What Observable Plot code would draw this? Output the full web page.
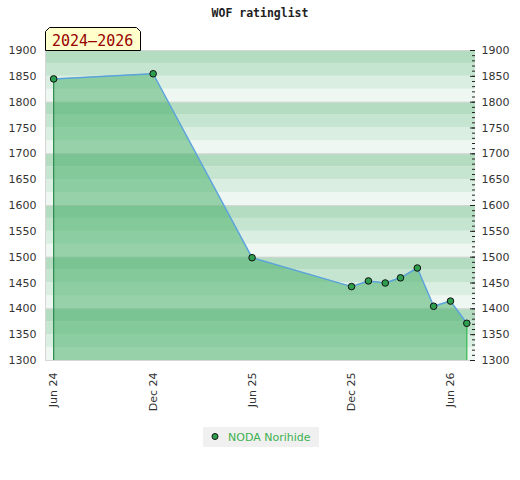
<!DOCTYPE html>
<html>
<head>
<meta charset="utf-8">
<script src="https://cdn.jsdelivr.net/npm/d3@7"></script>
<script src="https://cdn.jsdelivr.net/npm/@observablehq/plot@0.6"></script>
<style>
  html, body { margin: 0; padding: 0; background: #fff; }
  #wrap { position: relative; width: 520px; height: 480px; overflow: hidden; }
  #wrap > svg { position: absolute; left: 0; top: 0; }
  #deco { pointer-events: none; }
</style>
</head>
<body>
<div id="wrap"></div>
<script>
// ---- data ----
const dates = ["2024-06-01", "2024-12-01", "2025-06-01", "2025-12-01", "2026-01-01", "2026-02-01",
               "2026-03-01", "2026-04-01", "2026-05-01", "2026-06-01", "2026-07-01"];
const ratings = [1845, 1855, 1499, 1443, 1454, 1450, 1460, 1479, 1405, 1415, 1372];
const xTickDates = ["2024-06-01", "2024-12-01", "2025-06-01", "2025-12-01", "2026-06-01"];
const yTickLabels = [1300, 1350, 1400, 1450, 1500, 1550, 1600, 1650, 1700, 1750, 1800, 1850, 1900];
const playerName = "NODA Norihide";
const chartTitle = "WOF ratinglist";
const periodLabel = "2024–2026";

const data = dates.map((d, i) => ({date: new Date(d), rating: ratings[i]}));
const first = data[0], last = data[data.length - 1];
const xDomain = [new Date("2024-05-17"), new Date("2026-07-17")];
const yDomain = [1300, 1900];

// decorative background bands (25 points each)
const bandColors = ["#eef7f1", "#daeee1", "#c6e5d1", "#b3dcc1"];
const bands = d3.range(yDomain[0], yDomain[1], 25).map(v => ({y1: v, y2: v + 25, k: ((v - yDomain[0]) / 25) % 4}));
const hundreds = d3.range(yDomain[0], yDomain[1] + 1, 100);
const minor = d3.range(yDomain[0], yDomain[1] + 1, 10);
const major = d3.range(yDomain[0], yDomain[1] + 1, 50);

const W = 520, H = 420;
const mL = 45, mR = 45, mT = 50, mB = 60;
const innerW = W - mL - mR;

const chart = Plot.plot({
  width: W,
  height: H,
  marginLeft: mL,
  marginRight: mR,
  marginTop: mT,
  marginBottom: mB,
  style: {fontFamily: "DejaVu Sans", fontSize: "11px", color: "#333", background: "transparent"},
  x: {type: "utc", domain: xDomain, axis: null},
  y: {domain: yDomain, axis: null},
  marks: [
    Plot.rectY(bands, {x1: xDomain[0], x2: xDomain[1], y1: "y1", y2: "y2", fill: d => bandColors[d.k]}),
    Plot.ruleY(hundreds, {stroke: "#d6d6d6", strokeWidth: 1}),
    Plot.ruleX([xDomain[0]], {stroke: "#d6d6d6"}),
    Plot.areaY(data, {x: "date", y1: yDomain[0], y2: "rating", fill: "#48af69", fillOpacity: 0.53}),
    Plot.ruleX([first], {x: "date", y1: yDomain[0], y2: "rating", stroke: "#2e8b4e", strokeWidth: 1.2}),
    Plot.ruleX([last], {x: "date", y1: yDomain[0], y2: "rating", stroke: "#2db34a", strokeWidth: 1.2}),
    Plot.line(data, {x: "date", y: "rating", stroke: "#5ca3dc", strokeWidth: 1.5}),
    Plot.dot(data, {x: "date", y: "rating", r: 3.3, fill: "#2e9e4f", stroke: "#111", strokeWidth: 1}),
    Plot.tickY(minor, {y: d => d, insetLeft: innerW - 3, stroke: "#222"}),
    Plot.tickY(major, {y: d => d, insetLeft: innerW - 5, stroke: "#222"}),
    Plot.axisY(yTickLabels, {anchor: "left", tickSize: 0, tickPadding: 9, fill: "#333", tickFormat: d => String(d)}),
    Plot.axisY(yTickLabels, {anchor: "right", tickSize: 0, tickPadding: 6, fill: "#333", tickFormat: d => String(d)}),
    Plot.axisX(xTickDates.map(d => new Date(d)), {anchor: "bottom", tickSize: 0, tickPadding: 12, tickRotate: -90,
      tickFormat: d3.utcFormat("%b %y"), fill: "#333"})
  ]
});
document.getElementById("wrap").appendChild(chart);

// ---- decorations: title, period label, legend ----
const deco = d3.select("#wrap").append("svg").attr("id", "deco").attr("width", W).attr("height", 480);
deco.append("text").attr("x", 260).attr("y", 17).attr("text-anchor", "middle")
  .style("font-family", "DejaVu Sans Mono").style("font-weight", "bold").style("font-size", "11.5px")
  .attr("fill", "#222").text(chartTitle);

const bx0 = 45.5, bx1 = 140.5, by0 = 27.5, by1 = 50.5, c = 4;
deco.append("path")
  .attr("d", `M${bx0},${by1}L${bx0},${by0 + c}L${bx0 + c},${by0}L${bx1 - c},${by0}L${bx1},${by0 + c}L${bx1},${by1}Z`)
  .attr("fill", "#ffffcc").attr("stroke", "#000").attr("stroke-width", 1);
deco.append("text").attr("x", 52).attr("y", 45.5)
  .style("font-family", "DejaVu Sans Mono").style("font-size", "15px")
  .attr("fill", "#990000").text(periodLabel);

deco.append("rect").attr("x", 203).attr("y", 427).attr("width", 116).attr("height", 20).attr("fill", "#f0f0f0");
deco.append("circle").attr("cx", 215).attr("cy", 436.5).attr("r", 3).attr("fill", "#2e9e4f").attr("stroke", "#111");
deco.append("text").attr("x", 228).attr("y", 440.5)
  .style("font-family", "DejaVu Sans").style("font-size", "11px")
  .attr("fill", "#3cb04f").text(playerName);
</script>
</body>
</html>
